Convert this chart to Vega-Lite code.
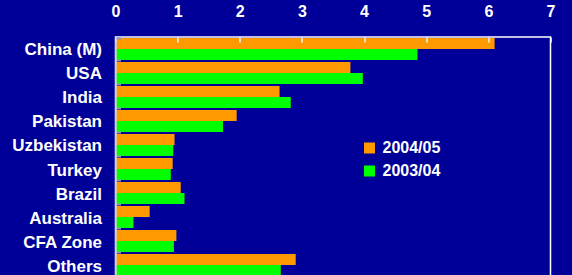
{
  "$schema": "https://vega.github.io/schema/vega-lite/v6.json",
  "width": 435,
  "height": 240,
  "autosize": {"type": "none"},
  "padding": {"left": 115.5, "top": 37, "right": 21.5, "bottom": 0},
  "background": "#000099",
  "config": {
    "view": {"stroke": "#FFFFFF", "strokeWidth": 1.5},
    "font": "Liberation Sans"
  },
  "data": {
    "values": [
      {"country": "China (M)", "season": "2004/05", "value": 6.10},
      {"country": "China (M)", "season": "2003/04", "value": 4.86},
      {"country": "USA", "season": "2004/05", "value": 3.78},
      {"country": "USA", "season": "2003/04", "value": 3.98},
      {"country": "India", "season": "2004/05", "value": 2.64},
      {"country": "India", "season": "2003/04", "value": 2.82},
      {"country": "Pakistan", "season": "2004/05", "value": 1.95},
      {"country": "Pakistan", "season": "2003/04", "value": 1.73},
      {"country": "Uzbekistan", "season": "2004/05", "value": 0.95},
      {"country": "Uzbekistan", "season": "2003/04", "value": 0.93},
      {"country": "Turkey", "season": "2004/05", "value": 0.92},
      {"country": "Turkey", "season": "2003/04", "value": 0.89},
      {"country": "Brazil", "season": "2004/05", "value": 1.05},
      {"country": "Brazil", "season": "2003/04", "value": 1.11},
      {"country": "Australia", "season": "2004/05", "value": 0.55},
      {"country": "Australia", "season": "2003/04", "value": 0.29},
      {"country": "CFA Zone", "season": "2004/05", "value": 0.98},
      {"country": "CFA Zone", "season": "2003/04", "value": 0.94},
      {"country": "Others", "season": "2004/05", "value": 2.90},
      {"country": "Others", "season": "2003/04", "value": 2.66}
    ]
  },
  "mark": {"type": "bar"},
  "encoding": {
    "y": {
      "field": "country",
      "type": "nominal",
      "sort": null,
      "scale": {"paddingInner": 0.083, "paddingOuter": 0.04},
      "axis": {
        "title": null,
        "labelColor": "#FFFFFF",
        "labelFontSize": 17,
        "labelFontWeight": "bold",
        "labelPadding": 19,
        "labelOffset": 1,
        "domain": true,
        "domainColor": "#D0D0E0",
        "domainWidth": 1.5,
        "ticks": true,
        "tickBand": "extent",
        "tickSize": -5,
        "tickColor": "#9090C0",
        "tickWidth": 2,
        "zindex": 1
      }
    },
    "yOffset": {
      "field": "season",
      "type": "nominal",
      "sort": ["2004/05", "2003/04"],
      "scale": {"paddingInner": 0, "paddingOuter": 0}
    },
    "x": {
      "field": "value",
      "type": "quantitative",
      "scale": {"domain": [0, 7], "nice": false},
      "axis": {
        "orient": "top",
        "title": null,
        "values": [0, 1, 2, 3, 4, 5, 6, 7],
        "grid": false,
        "domain": false,
        "ticks": true,
        "tickSize": -5,
        "tickColor": "#FFFFFF",
        "tickWidth": 1.5,
        "zindex": 1,
        "labelColor": "#FFFFFF",
        "labelFontSize": 16,
        "labelFontWeight": "bold",
        "labelPadding": 23,
        "labelFlush": false
      }
    },
    "color": {
      "field": "season",
      "type": "nominal",
      "scale": {"domain": ["2004/05", "2003/04"], "range": ["#FF9900", "#00FF00"]},
      "legend": {
        "title": null,
        "orient": "none",
        "legendX": 246,
        "legendY": 103,
        "symbolType": "square",
        "symbolSize": 121,
        "symbolStrokeWidth": 0,
        "symbolOpacity": 1,
        "labelColor": "#FFFFFF",
        "labelFontSize": 16,
        "labelFontWeight": "bold",
        "labelOffset": 5,
        "rowPadding": 7
      }
    }
  }
}
